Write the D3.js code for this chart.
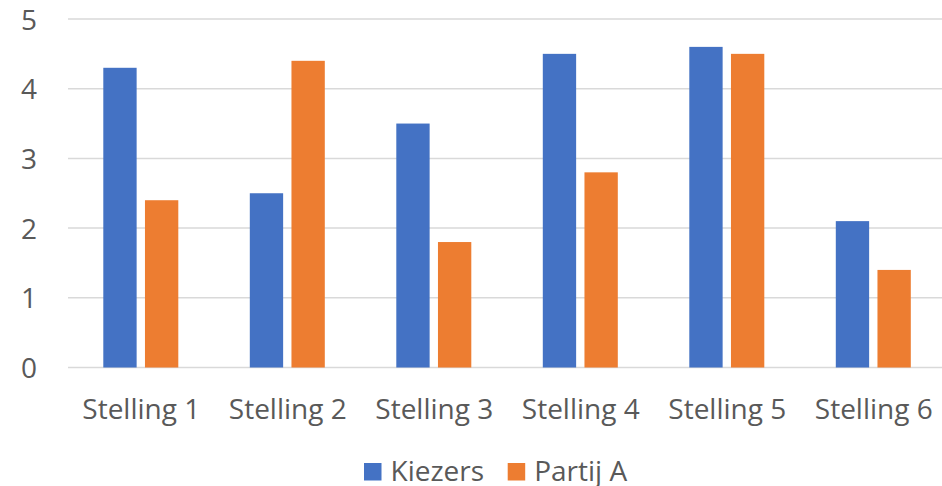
<!DOCTYPE html>
<html>
<head>
<meta charset="utf-8">
<script src="https://cdn.jsdelivr.net/npm/d3@7"></script>
<style>
  body { margin: 0; background: #fff; }
  .chart text { font-family: "Open Sans", sans-serif; fill: #595959; }
</style>
</head>
<body>
<div class="chart"></div>
<script>
const categories = ["Stelling 1", "Stelling 2", "Stelling 3", "Stelling 4", "Stelling 5", "Stelling 6"];
const seriesNames = ["Kiezers", "Partij A"];
const kiezers = [4.3, 2.5, 3.5, 4.5, 4.6, 2.1];
const partijA = [2.4, 4.4, 1.8, 2.8, 4.5, 1.4];
const yTicks = [0, 1, 2, 3, 4, 5];
const colors = ["#4472C4", "#ED7D31"];

const width = 942, height = 486;
const fontSize = 28;
const svg = d3.select(".chart").append("svg")
    .attr("width", width)
    .attr("height", height);

// scales
let x = d3.scaleBand().domain(categories).range([68, 947]).paddingInner(0).paddingOuter(0);
let y = d3.scaleLinear().domain([0, 5]).range([367.5, 19]);
let xs = d3.scaleBand().domain(seriesNames).range([35.3, 35.3 + 75]).paddingInner(0.2);

// gridlines
svg.append("g")
    .selectAll("line")
    .data(yTicks)
    .join("line")
    .attr("x1", 68).attr("x2", width)
    .attr("y1", d => y(d)).attr("y2", d => y(d))
    .attr("stroke", "#d9d9d9")
    .attr("stroke-width", 1.5);

// y labels
let yAxis = svg.append("g")
    .attr("transform", "translate(37,0)")
    .call(d3.axisLeft(y).tickValues(yTicks).tickFormat(d3.format("d")).tickSize(0).tickPadding(0));
yAxis.select(".domain").remove();
yAxis.selectAll("text").attr("font-size", fontSize).attr("dy", "0.36em");

// bars
const data = categories.map((c, i) => ({ cat: c, vals: [kiezers[i], partijA[i]] }));
svg.append("g")
    .selectAll("g")
    .data(data)
    .join("g")
    .attr("transform", d => `translate(${x(d.cat)},0)`)
    .selectAll("rect")
    .data(d => d.vals.map((v, j) => ({ name: seriesNames[j], value: v, color: colors[j] })))
    .join("rect")
    .attr("x", d => xs(d.name))
    .attr("width", xs.bandwidth())
    .attr("y", d => y(d.value))
    .attr("height", d => y(0) - y(d.value))
    .attr("fill", d => d.color);

// x axis labels
let xAxis = svg.append("g")
    .attr("transform", `translate(0,${y(0)})`)
    .call(d3.axisBottom(x).tickSize(0).tickPadding(0));
xAxis.select(".domain").remove();
xAxis.selectAll("text").attr("font-size", fontSize).attr("dy", 0).attr("y", 51);

// legend
const legendX = [364, 507.7];
let legend = svg.append("g")
    .selectAll("g")
    .data(seriesNames)
    .join("g")
    .attr("transform", (d, i) => `translate(${legendX[i]},0)`);
legend.append("rect")
    .attr("x", 0).attr("y", 463)
    .attr("width", 17.5).attr("height", 17.5)
    .attr("fill", (d, i) => colors[i]);
legend.append("text")
    .attr("x", 26.5).attr("y", 480.5)
    .attr("font-size", fontSize)
    .text(d => d);
</script>
</body>
</html>
